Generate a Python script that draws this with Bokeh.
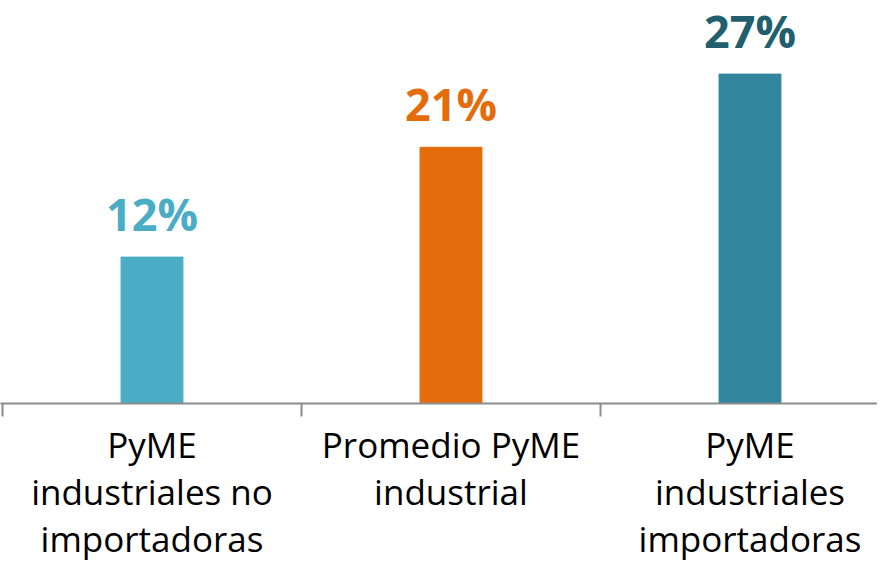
from bokeh.plotting import figure
from bokeh.models import ColumnDataSource, Range1d, FixedTicker
from bokeh.core.properties import value
from bokeh.embed import file_html
from bokeh.resources import INLINE

# Data
categories = [
    ["PyME", "industriales no", "importadoras"],
    ["Promedio PyME", "industrial"],
    ["PyME", "industriales", "importadoras"],
]
values = [12, 21, 27]
value_labels = ["12%", "21%", "27%"]
bar_colors = ["#4BACC6", "#E46C0A", "#31859C"]
label_colors = ["#4BACC6", "#E46C0A", "#215E6E"]

xs = [i + 0.5 for i in range(len(values))]
src = ColumnDataSource(dict(x=xs, top=values, lab=value_labels,
                            bc=bar_colors, lc=label_colors))

W, H = 877, 564
AXIS_Y = 403          # frame bottom, px from top
PX_PER_CAT = 299.0
x0 = -2 / PX_PER_CAT

p = figure(width=W, height=H, output_backend="svg", toolbar_location=None,
           x_range=Range1d(x0, x0 + W / PX_PER_CAT),
           y_range=Range1d(0, AXIS_Y / 12.2),
           min_border_left=0, min_border_right=0, min_border_top=0,
           min_border_bottom=H - AXIS_Y)

p.vbar(x="x", top="top", width=0.207, color="bc", source=src)
p.text(x="x", y="top", text="lab", text_color="lc", source=src,
       text_align="center", text_baseline="alphabetic", y_offset=-44,
       text_font=value("Open Sans"), text_font_style="bold",
       text_font_size="45px")

p.yaxis.visible = False
p.grid.visible = False
p.outline_line_color = None

boundaries = list(range(len(values) + 1))
ax = p.xaxis[0]
ax.ticker = FixedTicker(ticks=xs, minor_ticks=boundaries)
ax.major_label_overrides = {x: "\n".join(lines) for x, lines in zip(xs, categories)}
ax.major_label_text_font = "Open Sans"
ax.major_label_text_font_size = "35px"
ax.major_label_text_color = "#000000"
ax.major_label_text_line_height = 1.0
ax.major_label_text_align = "center"
ax.major_label_standoff = 4
ax.axis_line_color = "#8C8C8C"
ax.axis_line_width = 2
ax.major_tick_line_color = None
ax.major_tick_out = 0
ax.major_tick_in = 0
ax.minor_tick_line_color = "#8C8C8C"
ax.minor_tick_line_width = 2
ax.minor_tick_out = 13
ax.minor_tick_in = 0

open("out.html", "w").write(file_html(p, INLINE))
